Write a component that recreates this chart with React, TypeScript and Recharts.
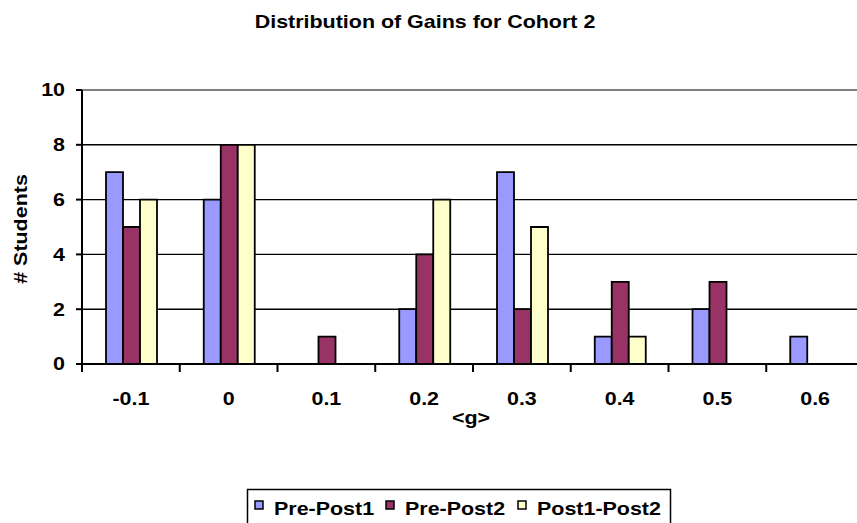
import React from "react";
import { BarChart, Bar, XAxis, YAxis, CartesianGrid, ReferenceLine, Label } from "recharts";

const categories = ["-0.1", "0", "0.1", "0.2", "0.3", "0.4", "0.5", "0.6"];
const prePost1 = [7, 6, 0, 2, 7, 1, 2, 1];
const prePost2 = [5, 8, 1, 4, 2, 3, 3, 0];
const post1Post2 = [6, 8, 0, 6, 5, 1, 0, 0];
const yTicks = [0, 2, 4, 6, 8, 10];

const seriesDefs = [
  { key: "prePost1", name: "Pre-Post1", color: "#9999FF" },
  { key: "prePost2", name: "Pre-Post2", color: "#993366" },
  { key: "post1Post2", name: "Post1-Post2", color: "#FFFFCC" },
];

const data = categories.map((c, i) => ({
  g: c,
  prePost1: prePost1[i],
  prePost2: prePost2[i],
  post1Post2: post1Post2[i],
}));

const FONT = "'Liberation Sans', Arial, sans-serif";
const SX = 1.16;
const CHART_W = 870;
const CHART_H = 523;
const MARGIN = { top: 90, right: 6, bottom: 99, left: 22 };
const Y_W = 60;
const BAND = (CHART_W - MARGIN.left - MARGIN.right - Y_W) / categories.length;

const textStyle = { fontFamily: FONT, fontWeight: 700, fontSize: 18.5, fill: "#000" };

const XTick = (props: any) => {
  const { x, y, payload } = props;
  const half = payload && typeof payload.offset === "number" && payload.offset > 0 ? payload.offset : BAND / 2;
  return (
    <g>
      <line x1={x - half} x2={x - half} y1={y} y2={y + 8} stroke="#000" strokeWidth={2} />
      <text transform={`translate(${x},${y + 35}) scale(${SX},1)`} textAnchor="middle" dy="0.35em" style={textStyle}>
        {payload.value}
      </text>
    </g>
  );
};

const YTick = (props: any) => {
  const { x, y, payload } = props;
  return (
    <text transform={`translate(${x},${y}) scale(${SX},1)`} textAnchor="end" dy="0.35em" style={textStyle}>
      {payload.value}
    </text>
  );
};

const XLabel = (props: any) => {
  const vb = props.viewBox || { x: 82, y: 364, width: 782, height: 60 };
  return (
    <text transform={`translate(${vb.x + vb.width / 2 - 2},${vb.y + 54}) scale(${SX},1)`} textAnchor="middle" dy="0.35em" style={textStyle}>
      {"<g>"}
    </text>
  );
};

const YLabel = (props: any) => {
  const vb = props.viewBox || { x: 22, y: 90, width: 60, height: 274 };
  return (
    <text transform={`translate(${vb.x - 1},${vb.y + vb.height / 2 + 2}) rotate(-90) scale(${SX},1)`} textAnchor="middle" dy="0.35em" style={textStyle}>
      # Students
    </text>
  );
};

const legendX = [255, 386, 518];

export default function App() {
  return (
    <div style={{ position: "fixed", left: 0, top: 0, width: 857, height: 523, overflow: "hidden", background: "#fff" }}>
      <div style={{ position: "absolute", left: 0, top: 0 }}>
        <BarChart width={CHART_W} height={CHART_H} data={data} margin={MARGIN} barGap={0} barCategoryGap={24}>
          <CartesianGrid vertical={false} stroke="#000" strokeWidth={1.4} />
          <ReferenceLine y={10} stroke="#808080" strokeWidth={2.2} />
          <XAxis dataKey="g" height={60} tickSize={0} tickMargin={0} tickLine={false} axisLine={{ stroke: "#000", strokeWidth: 2 }} tick={<XTick />} interval={0}>
            <Label content={<XLabel />} />
          </XAxis>
          <YAxis width={Y_W} domain={[0, 10]} ticks={yTicks} tickSize={6} tickMargin={11} tickLine={{ stroke: "#000", strokeWidth: 2 }} axisLine={{ stroke: "#000", strokeWidth: 2 }} tick={<YTick />}>
            <Label content={<YLabel />} />
          </YAxis>
          {seriesDefs.map((s) => (
            <Bar key={s.key} dataKey={s.key} name={s.name} fill={s.color} stroke="#000" strokeWidth={1.8} isAnimationActive={false} />
          ))}
        </BarChart>
      </div>
      <svg width={857} height={523} style={{ position: "absolute", left: 0, top: 0, pointerEvents: "none" }}>
        <text transform={`translate(425,28) scale(${SX},1)`} textAnchor="middle" style={textStyle}>
          Distribution of Gains for Cohort 2
        </text>
        <rect x={247.5} y={489.5} width={423} height={45} fill="none" stroke="#000" strokeWidth={1.5} />
        {seriesDefs.map((s, i) => (
          <g key={s.key}>
            <rect x={legendX[i]} y={501} width={8} height={8} fill={s.color} stroke="#000" strokeWidth={1.5} />
            <text transform={`translate(${legendX[i] + 19},515) scale(${SX},1)`} style={textStyle}>
              {s.name}
            </text>
          </g>
        ))}
      </svg>
    </div>
  );
}
